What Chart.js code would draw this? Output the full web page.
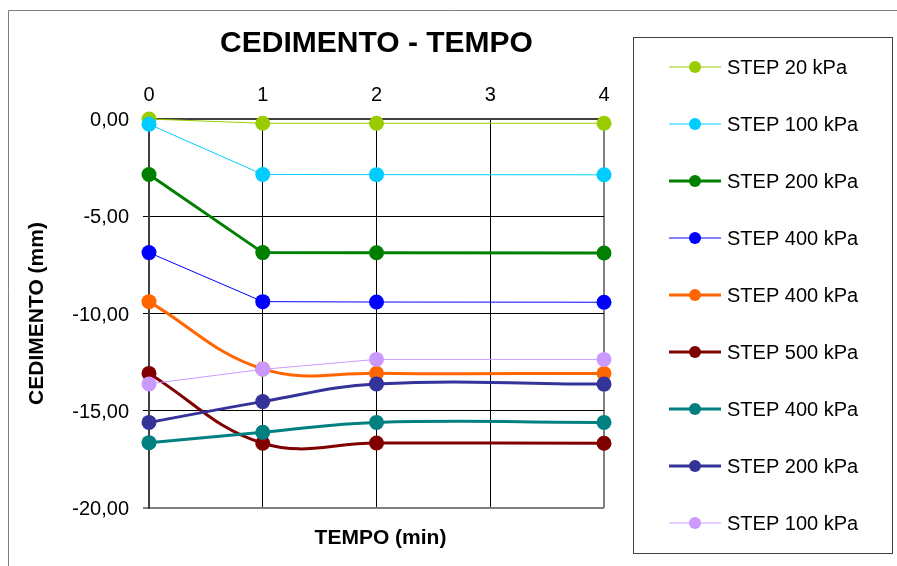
<!DOCTYPE html>
<html>
<head>
<meta charset="utf-8">
<script src="https://cdn.jsdelivr.net/npm/chart.js@4.4.1/dist/chart.umd.min.js"></script>
<style>
  html, body { margin: 0; padding: 0; background: #fff; }
  canvas { display: block; }
</style>
</head>
<body>
<canvas id="chart" width="897" height="566"></canvas>
<script>
const FONT = '"Liberation Sans", Arial, sans-serif';

// time (min) where readings were taken
const timeMin = [0, 1, 2, 4];

const seriesLabels = [
  "STEP 20 kPa", "STEP 100 kPa", "STEP 200 kPa", "STEP 400 kPa", "STEP 400 kPa",
  "STEP 500 kPa", "STEP 400 kPa", "STEP 200 kPa", "STEP 100 kPa",
];
const seriesColors = [
  "#99CC00", "#00CCFF", "#008000", "#0000FF", "#FF6600",
  "#800000", "#008080", "#333399", "#CC99FF",
];
const seriesWidths = [1, 1, 3, 1, 3, 3, 3, 3, 1];
const seriesSmooth = [0, 0, 0, 0, 0.4, 0.4, 0.4, 0.4, 0];

// settlement (mm) per step
const step20 = [0, -0.22, -0.22, -0.22];
const step100a = [-0.27, -2.85, -2.86, -2.87];
const step200a = [-2.85, -6.87, -6.88, -6.89];
const step400a = [-6.87, -9.39, -9.41, -9.42];
const step400b = [-9.39, -12.85, -13.07, -13.08];
const step500 = [-13.08, -16.67, -16.66, -16.67];
const step400c = [-16.64, -16.11, -15.6, -15.6];
const step200b = [-15.6, -14.53, -13.62, -13.63];
const step100b = [-13.62, -12.87, -12.36, -12.36];

const seriesValues = [step20, step100a, step200a, step400a, step400b, step500, step400c, step200b, step100b];

const yTicks = [0, -5, -10, -15, -20];

const datasets = seriesValues.map((vals, i) => ({
  label: seriesLabels[i],
  data: vals.map((v, k) => ({ x: timeMin[k], y: v })),
  borderColor: seriesColors[i],
  backgroundColor: seriesColors[i],
  borderWidth: seriesWidths[i],
  tension: seriesSmooth[i],
  pointRadius: 7.5,
  pointHoverRadius: 7.5,
  pointBorderWidth: 0,
  pointBackgroundColor: seriesColors[i],
  showLine: true,
  clip: false,
  order: seriesValues.length - i,
}));

const extrasPlugin = {
  id: "extras",
  afterDraw(chart) {
    const ctx = chart.ctx;
    const area = chart.chartArea;
    ctx.save();

    // outer frame (only top and left are inside the picture)
    ctx.strokeStyle = "#7f7f7f";
    ctx.lineWidth = 1;
    ctx.beginPath();
    ctx.moveTo(8.5, 600);
    ctx.lineTo(8.5, 10.5);
    ctx.lineTo(900, 10.5);
    ctx.stroke();

    // x axis title at the bottom
    ctx.fillStyle = "#000";
    ctx.font = "bold 21px " + FONT;
    ctx.textAlign = "center";
    ctx.textBaseline = "middle";
    ctx.fillText("TEMPO (min)", (area.left + area.right) / 2 + 4, 538);

    // legend
    ctx.strokeStyle = "#404040";
    ctx.lineWidth = 1;
    ctx.strokeRect(633.5, 37.5, 259, 516);
    ctx.font = "20px " + FONT;
    ctx.textAlign = "left";
    chart.data.datasets.forEach((ds, i) => {
      const y = 67 + i * 57;
      ctx.strokeStyle = ds.borderColor;
      ctx.lineWidth = ds.borderWidth;
      ctx.beginPath();
      ctx.moveTo(669, y);
      ctx.lineTo(721, y);
      ctx.stroke();
      ctx.fillStyle = ds.borderColor;
      ctx.beginPath();
      ctx.arc(695, y, 6, 0, Math.PI * 2);
      ctx.fill();
      ctx.fillStyle = "#000";
      ctx.fillText(ds.label, 727, y + 1);
    });
    ctx.restore();
  },
};

new Chart(document.getElementById("chart"), {
  type: "scatter",
  data: { datasets },
  options: {
    responsive: false,
    devicePixelRatio: 1,
    animation: false,
    events: [],
    layout: { padding: { left: 10, right: 293, top: 0, bottom: 58 } },
    plugins: {
      legend: { display: false },
      tooltip: { enabled: false },
      title: {
        display: true,
        text: "CEDIMENTO - TEMPO",
        fullSize: false,
        color: "#000",
        font: { family: FONT, size: 30, weight: "bold" },
        padding: { top: 26, bottom: 0 },
      },
    },
    scales: {
      x: {
        type: "linear",
        position: "top",
        min: 0,
        max: 4,
        afterFit: (scale) => { scale.height = 57; },
        ticks: {
          stepSize: 1,
          color: "#000",
          padding: 12,
          font: { family: FONT, size: 20 },
        },
        grid: {
          drawTicks: false,
          color: (c) => (c.tick.value === 4 ? "#808080" : c.tick.value === 0 ? "#404040" : "#000"),
          lineWidth: (c) => (c.tick.value === 4 || c.tick.value === 0 ? 2 : 1),
        },
        border: { color: "#404040", width: 2 },
      },
      y: {
        min: -20,
        max: 0,
        afterFit: (scale) => { scale.width = 139; },
        afterBuildTicks: (scale) => { scale.ticks = yTicks.map((v) => ({ value: v })); },
        ticks: {
          color: "#000",
          padding: 14,
          labelOffset: 1.5,
          font: { family: FONT, size: 20 },
          callback: (v) => (v === 0 ? "0,00" : v.toFixed(2).replace(".", ",")),
        },
        grid: {
          tickLength: 6,
          color: (c) => (c.tick.value === -20 ? "#808080" : c.tick.value === 0 ? "#404040" : "#000"),
          lineWidth: (c) => (c.tick.value === -20 || c.tick.value === 0 ? 2 : 1),
        },
        border: { color: "#404040", width: 2 },
        title: {
          display: true,
          text: "CEDIMENTO (mm)",
          color: "#000",
          font: { family: FONT, size: 21, weight: "bold" },
          padding: { top: 15, bottom: 0 },
        },
      },
    },
  },
  plugins: [extrasPlugin],
});
</script>
</body>
</html>
